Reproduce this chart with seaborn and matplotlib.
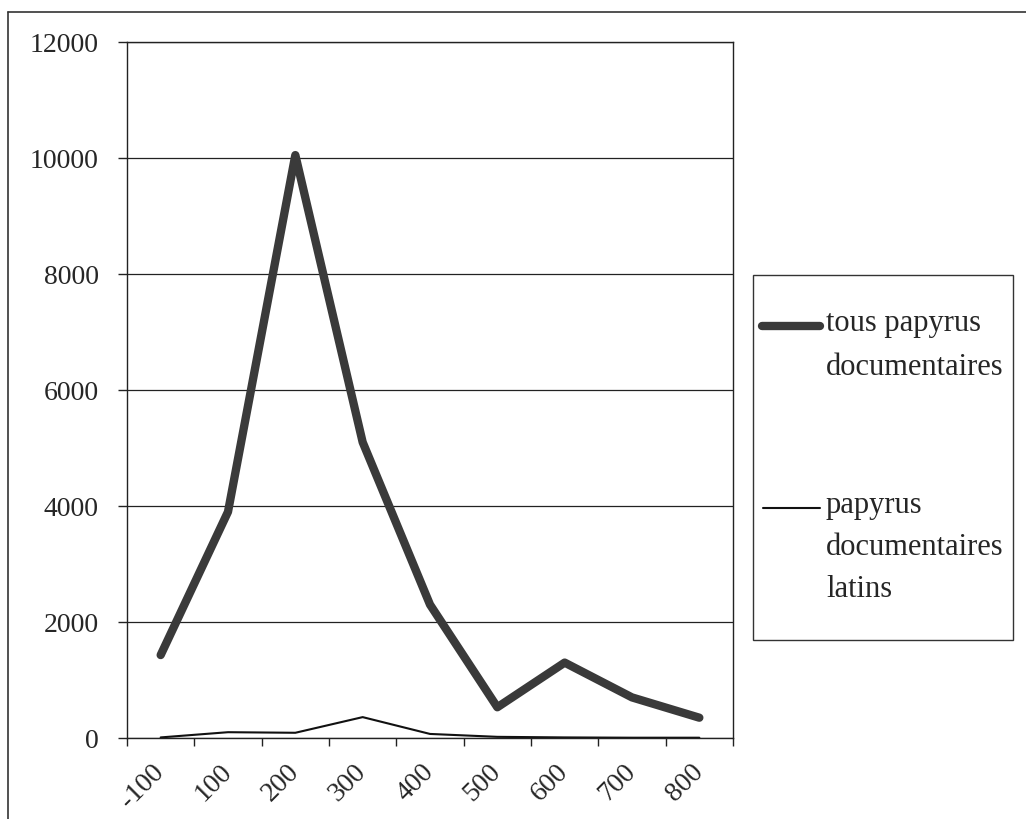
import numpy as np
import pandas as pd
import matplotlib
matplotlib.use("Agg")
import matplotlib.pyplot as plt
import seaborn as sns
from matplotlib.lines import Line2D
from matplotlib.patches import Rectangle

# données (nombre de papyrus par siècle)
periodes = ["-100", "100", "200", "300", "400", "500", "600", "700", "800"]
tous_papyrus = [1430, 3900, 10050, 5100, 2300, 530, 1300, 700, 350]
papyrus_latins = [10, 100, 90, 360, 70, 20, 10, 5, 5]

df = pd.DataFrame({"pos": np.arange(len(periodes)),
                   "tous": tous_papyrus,
                   "latins": papyrus_latins})

sns.set_style("white")
plt.rcParams["font.family"] = ["Liberation Serif", "DejaVu Serif"]

fig = plt.figure(figsize=(10.26, 8.19), dpi=100)
ax = fig.add_axes([127 / 1026, 1 - 738 / 819, (733 - 127) / 1026, (738 - 42) / 819])

sns.lineplot(data=df, x="pos", y="tous", ax=ax, color="#3a3a3a", lw=6,
             solid_capstyle="round", solid_joinstyle="round")
sns.lineplot(data=df, x="pos", y="latins", ax=ax, color="#111111", lw=1.5)

ax.set_xlim(-0.5, len(periodes) - 0.5)
ax.set_ylim(0, 12000)
ax.set_yticks(np.arange(0, 12001, 2000))
ax.set_xticks(df["pos"])
ax.set_xticklabels(periodes, rotation=45, ha="right", va="center",
                   rotation_mode="anchor")
ax.set_xticks(np.arange(-0.5, len(periodes), 1), minor=True)
ax.tick_params(axis="x", which="major", length=0, pad=22, labelsize=20)
ax.tick_params(axis="x", which="minor", length=6, width=1, direction="out",
               color="#222222", bottom=True)
ax.tick_params(axis="y", length=6.5, width=1, direction="out", pad=14,
               labelsize=20, color="#222222", left=True)
ax.set_xlabel("")
ax.set_ylabel("")
ax.yaxis.grid(True, color="#222222", lw=0.9)
ax.set_axisbelow(True)
for s in ax.spines.values():
    s.set_color("#222222")
    s.set_linewidth(1.0)

# cadre extérieur (page scannée)
fig.add_artist(Line2D([8 / 1026, 1], [1 - 12 / 819, 1 - 12 / 819],
                      color="#333333", lw=1.2))
fig.add_artist(Line2D([8 / 1026, 8 / 1026], [1 - 12 / 819, 0],
                      color="#333333", lw=1.2))

# légende dessinée à la main (poignée alignée sur la première ligne)
def fx(px):
    return px / 1026


def fy(py):
    return 1 - py / 819


fig.add_artist(Rectangle((fx(753), fy(640)), fx(1013) - fx(753), fy(275) - fy(640),
                         fill=False, edgecolor="#333333", lw=1.0))
fig.add_artist(Line2D([fx(762), fx(820)], [fy(326), fy(326)], color="#3a3a3a",
                      lw=6, solid_capstyle="round"))
fig.add_artist(Line2D([fx(763), fx(820)], [fy(508), fy(508)], color="#111111",
                      lw=1.5))
fig.text(fx(826), fy(309), "tous papyrus\ndocumentaires", fontsize=22,
         va="top", ha="left", linespacing=1.7)
fig.text(fx(826), fy(491), "papyrus\ndocumentaires\nlatins", fontsize=22,
         va="top", ha="left", linespacing=1.6)

fig.savefig("out.png", dpi=100, facecolor="white")
